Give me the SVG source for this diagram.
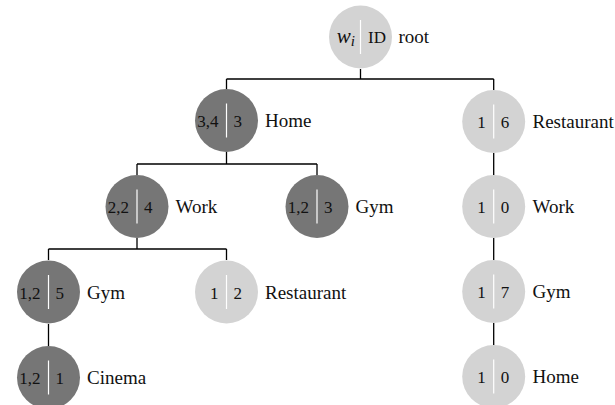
<svg xmlns="http://www.w3.org/2000/svg" width="615" height="405" viewBox="0 0 615 405">
<style>
.light{fill:#d3d3d3}
.dark{fill:#767676}
.div{stroke:#fff;stroke-width:1.2}
.v{font-family:"Liberation Serif","Times New Roman",serif;font-size:17px;fill:#111}
.l{text-anchor:end}
.lab{font-family:"Liberation Serif","Times New Roman",serif;font-size:19px;fill:#111}
.c{stroke:#000;stroke-width:1.3;fill:none}
</style>
<rect width="615" height="405" fill="#fff"/>
<g id="connectors">
<path class="c" d="M360.5 69V79M226.5 79H493.7M226.5 79V89M493.7 79V90"/>
<path class="c" d="M226.5 152V164M137 164H317M137 164V175M317 164V175"/>
<path class="c" d="M137 238V249M48.5 249H226.5M48.5 249V260M226.5 249V260"/>
<path class="c" d="M48.5 324V346"/>
<path class="c" d="M493.7 153V175M493.7 238V260M493.7 323V345"/>
</g>
<g id="root">
<circle class="light" cx="360.5" cy="37" r="31.5"/>
<line class="div" x1="360.5" y1="20" x2="360.5" y2="54"/>
<text class="v l" x="355" y="43"><tspan font-style="italic" font-size="21">w</tspan><tspan font-style="italic" font-size="15" dy="3">i</tspan></text>
<text class="v" x="368" y="43">ID</text>
<text class="lab" x="398.5" y="43">root</text>
</g>
<g id="home">
<circle class="dark" cx="226.5" cy="120.5" r="31.5"/>
<line class="div" x1="226.5" y1="103.5" x2="226.5" y2="137.5"/>
<text class="v l" x="218.5" y="127">3,4</text>
<text class="v" x="233.5" y="127">3</text>
<text class="lab" x="265" y="127">Home</text>
</g>
<g id="work">
<circle class="dark" cx="137" cy="206.5" r="31.5"/>
<line class="div" x1="137" y1="189.5" x2="137" y2="223.5"/>
<text class="v l" x="129" y="213">2,2</text>
<text class="v" x="144" y="213">4</text>
<text class="lab" x="175.5" y="213">Work</text>
</g>
<g id="gym1">
<circle class="dark" cx="317" cy="206.5" r="31.5"/>
<line class="div" x1="317" y1="189.5" x2="317" y2="223.5"/>
<text class="v l" x="309" y="213">1,2</text>
<text class="v" x="324" y="213">3</text>
<text class="lab" x="355.5" y="213">Gym</text>
</g>
<g id="gym2">
<circle class="dark" cx="48.5" cy="292" r="31.5"/>
<line class="div" x1="48.5" y1="275" x2="48.5" y2="309"/>
<text class="v l" x="40.5" y="298.5">1,2</text>
<text class="v" x="55.5" y="298.5">5</text>
<text class="lab" x="87" y="298.5">Gym</text>
</g>
<g id="restaurant1">
<circle class="light" cx="226.5" cy="292" r="31.5"/>
<line class="div" x1="226.5" y1="275" x2="226.5" y2="309"/>
<text class="v l" x="218.5" y="298.5">1</text>
<text class="v" x="233.5" y="298.5">2</text>
<text class="lab" x="265" y="298.5">Restaurant</text>
</g>
<g id="cinema">
<circle class="dark" cx="48.5" cy="377.5" r="31.5"/>
<line class="div" x1="48.5" y1="360.5" x2="48.5" y2="394.5"/>
<text class="v l" x="40.5" y="384">1,2</text>
<text class="v" x="55.5" y="384">1</text>
<text class="lab" x="87" y="384">Cinema</text>
</g>
<g id="restaurant2">
<circle class="light" cx="493.7" cy="121.5" r="31.5"/>
<line class="div" x1="493.7" y1="104.5" x2="493.7" y2="138.5"/>
<text class="v l" x="485.7" y="128">1</text>
<text class="v" x="500.7" y="128">6</text>
<text class="lab" x="532.5" y="128">Restaurant</text>
</g>
<g id="work2">
<circle class="light" cx="493.7" cy="206.5" r="31.5"/>
<line class="div" x1="493.7" y1="189.5" x2="493.7" y2="223.5"/>
<text class="v l" x="485.7" y="213">1</text>
<text class="v" x="500.7" y="213">0</text>
<text class="lab" x="532.5" y="213">Work</text>
</g>
<g id="gym3">
<circle class="light" cx="493.7" cy="291.5" r="31.5"/>
<line class="div" x1="493.7" y1="274.5" x2="493.7" y2="308.5"/>
<text class="v l" x="485.7" y="298">1</text>
<text class="v" x="500.7" y="298">7</text>
<text class="lab" x="532.5" y="298">Gym</text>
</g>
<g id="home2">
<circle class="light" cx="493.7" cy="376.5" r="31.5"/>
<line class="div" x1="493.7" y1="359.5" x2="493.7" y2="393.5"/>
<text class="v l" x="485.7" y="383">1</text>
<text class="v" x="500.7" y="383">0</text>
<text class="lab" x="532.5" y="383">Home</text>
</g>
</svg>
